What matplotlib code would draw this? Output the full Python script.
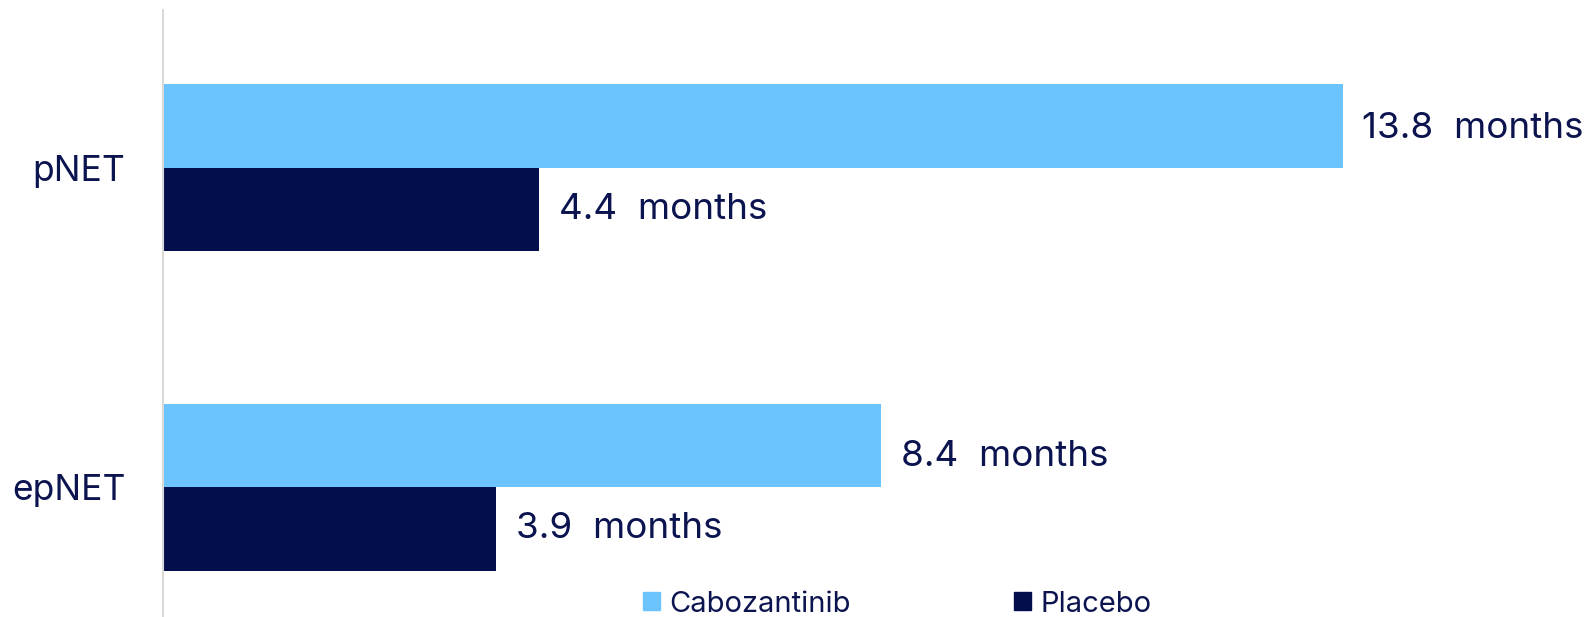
import matplotlib
matplotlib.use("Agg")
import matplotlib.pyplot as plt
import numpy as np
from matplotlib.patches import Patch

categories = ["pNET", "epNET"]
series_names = ["Cabozantinib", "Placebo"]
cabozantinib = [13.8, 8.4]
placebo = [4.4, 3.9]
colors = ["#6cc4ff", "#030e4c"]
text_color = "#0c1450"

plt.rcParams['font.family'] = ['Inter', 'DejaVu Sans']

W, H = 1595, 617
fig = plt.figure(figsize=(W / 100, H / 100), dpi=100)
left = 163 / W
ax = fig.add_axes([left, 0, 1 - left, 1 - 10 / H])

y = np.arange(len(categories))
bh = 0.261
ax.barh(y - bh / 2, cabozantinib, height=bh, color=colors[0], label=series_names[0])
ax.barh(y + bh / 2, placebo, height=bh, color=colors[1], label=series_names[1])

# label vertical nudges (points), matching the reference placement
nudges = {(0, 0): -2, (0, 1): -8, (1, 0): 0, (1, 1): 0}
for si, (vals, off) in enumerate([(cabozantinib, -bh / 2), (placebo, bh / 2)]):
    for i, v in enumerate(vals):
        ax.annotate(f"{v}  months", (v, i + off), xytext=(14, nudges[(si, i)]),
                    textcoords="offset points",
                    ha="left", va="center", fontsize=26.5, color=text_color)

ax.set_xlim(0, 16.75)
ax.set_ylim(1.406, -0.494)
ax.set_yticks(y)
ax.set_yticklabels(categories, fontsize=25.5, color=text_color)
ax.tick_params(axis='y', length=0, pad=27)
ax.set_xticks([])
for s in ["top", "right", "bottom"]:
    ax.spines[s].set_visible(False)
ax.spines["left"].set_color("#d9d9d9")
ax.spines["left"].set_linewidth(1.5)

handles = [Patch(color=colors[0]), Patch(color=colors[1])]
fig.legend(handles, series_names, loc="center", bbox_to_anchor=(897 / W, 1 - 604 / H),
           ncol=2, frameon=False, fontsize=21, handlelength=0.6, handleheight=0.6,
           handletextpad=0.3, columnspacing=5.6, labelcolor=text_color)

fig.savefig("out.png", dpi=100)
